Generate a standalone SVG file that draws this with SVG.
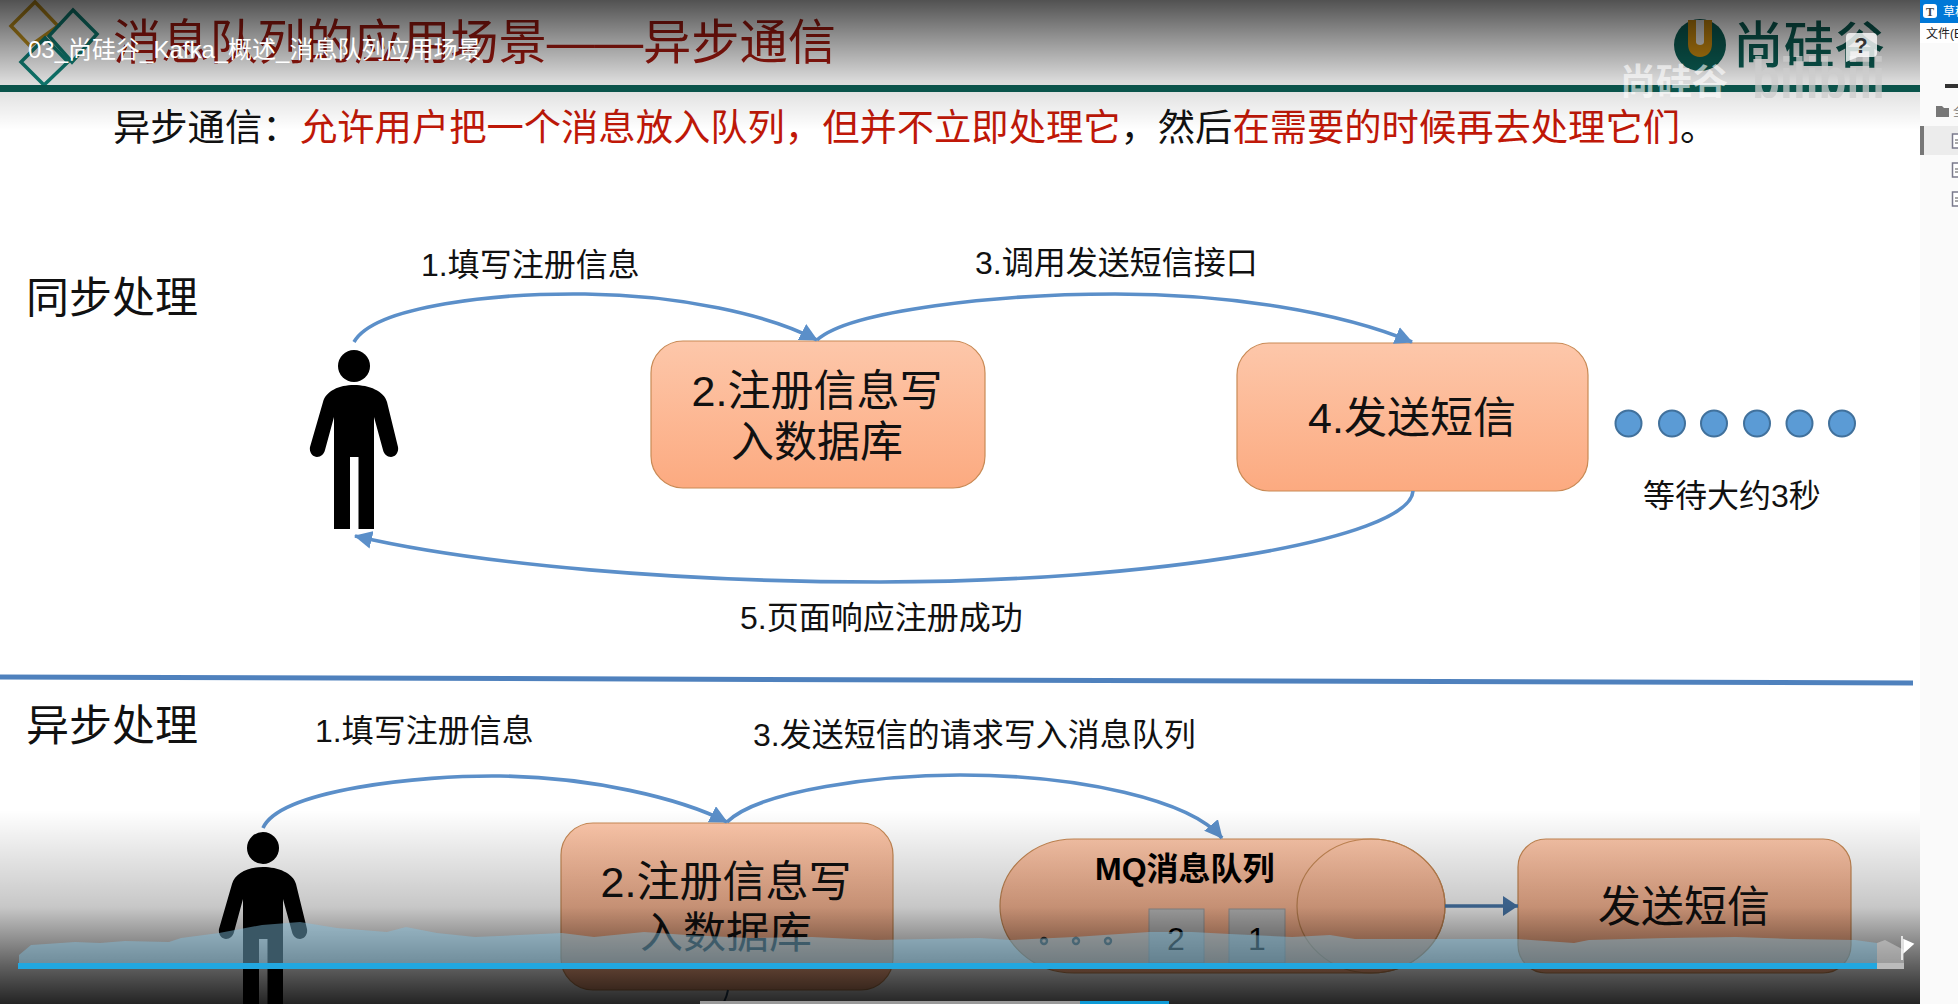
<svg xmlns="http://www.w3.org/2000/svg" xmlns:xlink="http://www.w3.org/1999/xlink" width="1958" height="1004" viewBox="0 0 1958 1004">
<defs>
<linearGradient id="boxG" x1="0" y1="0" x2="0" y2="1"><stop offset="0" stop-color="#fdc7aa"/><stop offset="1" stop-color="#fcaa80"/></linearGradient>
<linearGradient id="topShade" x1="0" y1="0" x2="0" y2="1"><stop offset="0" stop-color="#000" stop-opacity=".68"/><stop offset=".3" stop-color="#000" stop-opacity=".42"/><stop offset=".62" stop-color="#000" stop-opacity=".15"/><stop offset="1" stop-color="#000" stop-opacity="0"/></linearGradient>
<linearGradient id="botShade" x1="0" y1="0" x2="0" y2="1"><stop offset="0" stop-color="#000" stop-opacity="0"/><stop offset=".5" stop-color="#000" stop-opacity=".22"/><stop offset=".8" stop-color="#000" stop-opacity=".62"/><stop offset="1" stop-color="#000" stop-opacity=".86"/></linearGradient>
<marker id="ah" markerUnits="userSpaceOnUse" markerWidth="20" markerHeight="18" refX="17" refY="9" orient="auto"><path d="M0 0L18 9L0 18z" fill="#5b8fc9"/></marker>
<marker id="ah2" markerUnits="userSpaceOnUse" markerWidth="18" markerHeight="20" refX="15" refY="10" orient="auto"><path d="M0 0L15 10L0 20z" fill="#4a7aae"/></marker>
<g id="person"><ellipse cx="354" cy="366" rx="16" ry="16"/><path d="M354 385C339 385 326 391 323 402L310 447C309 453 313 457 317 457C321 457 324 454 325 450L334 417V529H350V457H358.5V529H374V417L383 450C384 454 387 457 391 457C395 457 399 453 398 447L387 402C384 391 369 385 354 385z"/></g>
<clipPath id="wmClip"><rect x="1600" y="50" width="300" height="48"/></clipPath>
</defs>
<style>
text{font-family:"Liberation Sans","Noto Sans CJK SC",sans-serif}
.box{fill:url(#boxG);stroke:#c98a55;stroke-width:1.2}
.lab{font-size:32px;fill:#111}
.big{font-size:43px;fill:#111;text-anchor:middle}
.head{font-size:43px;fill:#111}
.con{fill:none;stroke:#5b8fc9;stroke-width:3.6;marker-end:url(#ah)}
.dot{fill:#5b9bd5;stroke:#41719c;stroke-width:2}
.red{fill:#c01808}
.doc{fill:#fff;stroke:#7a7a8c;stroke-width:1.5}
.qd{fill:none;stroke:#333;stroke-width:2.4}
</style>
<rect width="1958" height="1004" fill="#fff"/>

<g id="header">
<path d="M35 2L58 26L30 46L11 26z" fill="none" stroke="#c9981e" stroke-width="3.5"/>
<path d="M73 10L97 34L72 62L49 36z" fill="none" stroke="#10857a" stroke-width="3.5"/>
<path d="M45 38L68 62L44 85L21 62z" fill="none" stroke="#10857a" stroke-width="3.5"/>
<text x="113" y="59" font-size="48.2" fill="#a81a10">消息队列的应用场景——异步通信</text>
<rect x="0" y="85" width="1920" height="7" fill="#0b5f55"/>
<text x="113" y="141" font-size="37.3" fill="#111">异步通信：</text>
<text x="300" y="141" font-size="37.3" class="red">允许用户把一个消息放入队列，但并不立即处理它<tspan fill="#111">，然后</tspan>在需要的时候再去处理它们<tspan fill="#111">。</tspan></text>
</g>

<g id="logo">
<circle cx="1700" cy="45" r="26" fill="#0b5f55"/>
<path d="M1688 20H1712V44C1712 52 1707 57 1700 57C1693 57 1688 52 1688 44z" fill="#c98a10"/>
<path d="M1696 20H1704V42C1704 46 1696 46 1696 42z" fill="#e8e8e8"/>
<text x="1733" y="63" font-size="50" font-weight="500" fill="#0b5f55" textLength="152" lengthAdjust="spacingAndGlyphs">尚硅谷</text>
</g>

<g id="sync-label"><text class="head" x="26" y="313">同步处理</text></g>
<g id="user-sync"><use xlink:href="#person" href="#person" fill="#000"/></g>
<g id="node-db-sync"><rect class="box" x="651" y="341" width="334" height="147" rx="32"/><text class="big" x="817" y="406">2.注册信息写</text><text class="big" x="817" y="457">入数据库</text></g>
<g id="node-sms-sync"><rect class="box" x="1237" y="343" width="351" height="148" rx="32"/><text class="big" x="1412" y="433">4.发送短信</text></g>
<g id="wait-dots">
<circle class="dot" cx="1628.5" cy="423.5" r="13"/><circle class="dot" cx="1672" cy="423.5" r="13"/><circle class="dot" cx="1714" cy="423.5" r="13"/><circle class="dot" cx="1757" cy="423.5" r="13"/><circle class="dot" cx="1799.5" cy="423.5" r="13"/><circle class="dot" cx="1842" cy="423.5" r="13"/>
<text class="lab" x="1643" y="507">等待大约3秒</text>
</g>

<line id="divider" x1="0" y1="677" x2="1913" y2="683" stroke="#4f81bd" stroke-width="5"/>

<g id="async-label"><text class="head" x="26" y="741">异步处理</text></g>
<g id="user-async"><use xlink:href="#person" href="#person" transform="translate(-91 482)" fill="#000"/></g>
<g id="node-db-async"><rect class="box" x="561" y="823" width="332" height="167" rx="32"/><text class="big" x="726" y="897">2.注册信息写</text><text class="big" x="726" y="948">入数据库</text></g>
<g id="node-mq">
<path class="box" d="M1074 839H1371A74 67 0 0 1 1371 973H1074A74 67 0 0 1 1074 839z"/>
<ellipse cx="1371" cy="906" rx="74" ry="67" fill="none" stroke="#c98a55" stroke-width="1.2"/>
<text x="1095" y="880" font-size="32" font-weight="700" fill="#000">MQ消息队列</text>
<circle class="qd" cx="1044" cy="941" r="3"/><circle class="qd" cx="1076" cy="941" r="3"/><circle class="qd" cx="1108" cy="941" r="3"/>
<rect x="1149" y="909" width="55" height="54" fill="#c4c4c4" stroke="#a0a0a0"/><text x="1176" y="950" font-size="32" text-anchor="middle" fill="#000">2</text>
<rect x="1229" y="909" width="56" height="54" fill="#c4c4c4" stroke="#a0a0a0"/><text x="1257" y="950" font-size="32" text-anchor="middle" fill="#000">1</text>
</g>
<g id="node-sms-async"><rect class="box" x="1518" y="839" width="333" height="134" rx="28"/><text class="big" x="1684" y="922">发送短信</text></g>

<g id="connectors">
<path class="con" d="M354 342C375 305 500 293 585 294C680 295 770 315 817 340"/>
<path class="con" d="M817 340C850 310 1000 294 1115 294C1230 294 1340 312 1412 342"/>
<path class="con" d="M1413 491C1410 540 1150 582 880 582C680 582 480 565 355 536"/>
<path class="con" d="M263 828C280 790 420 775 500 776C590 777 680 798 727 822"/>
<path class="con" d="M727 822C760 790 880 775 960 775C1080 775 1190 800 1222 838"/>
<path class="con" style="stroke:#4a7aae;marker-end:url(#ah2)" d="M1445 906H1518"/>
<path d="M728 990Q727 996 724 1002" fill="none" stroke="#2a4a68" stroke-width="2"/>
</g>

<g id="edge-labels">
<text class="lab" x="421" y="276">1.填写注册信息</text>
<text class="lab" x="975" y="274">3.调用发送短信接口</text>
<text class="lab" x="740" y="629">5.页面响应注册成功</text>
<text class="lab" x="315" y="742">1.填写注册信息</text>
<text class="lab" x="753" y="746">3.发送短信的请求写入消息队列</text>
</g>

<g id="player-overlay">
<rect x="0" y="0" width="1920" height="130" fill="url(#topShade)"/>
<rect x="0" y="810" width="1920" height="194" fill="url(#botShade)"/>
<path d="M19 963V955L31 945L75 942L100 943L125 941L169 942L181 938L219 933L262 925L300 922L337 928L387 932L406 927L437 933L475 937L562 933L594 937L644 932L687 935L750 938L812 937L875 940L980 938L1011 940L1074 937L1149 932L1192 932L1230 934L1292 937L1330 935L1355 939L1442 939L1517 939L1574 943L1589 940L1667 938L1736 937L1792 939L1855 940L1877 943V963z" fill="#80c0e0" fill-opacity=".45"/>
<path d="M1877 943L1885 940L1904 950V963H1877z" fill="#ddd" fill-opacity=".45"/>
<rect x="18" y="963" width="1859" height="6" fill="#22a7e0"/>
<rect x="1877" y="963" width="27" height="6" fill="#bbb"/>
<path d="M1902 936V960M1904 940L1913 944L1904 952z" fill="#fff" stroke="#fff" stroke-width="1.5"/>
<rect x="700" y="1001" width="380" height="3" fill="#999"/>
<rect x="1080" y="1001" width="89" height="3" fill="#0e9ad6"/>
<text x="28" y="58" font-size="24" fill="#fff">03_尚硅谷_Kafka_概述_消息队列应用场景</text>
<g clip-path="url(#wmClip)">
<text x="1620" y="95" font-size="36" font-weight="700" fill="#fff" fill-opacity=".6">尚硅谷</text>
<text x="1752" y="98" font-size="58" font-weight="700" fill="#ccc" fill-opacity=".75" textLength="133" lengthAdjust="spacingAndGlyphs">bilibili</text>
</g>
<path d="M1850 33H1873Q1877 33 1877 37V53Q1877 57 1873 57H1858L1846 62V37Q1846 33 1850 33z" fill="#fff" fill-opacity=".8"/>
<text x="1861" y="53" font-size="22" font-weight="700" text-anchor="middle" fill="#333">?</text>
</g>

<g id="side-panel">
<rect x="1920" y="0" width="38" height="1004" fill="#fafafa"/>
<rect x="1920" y="0" width="38" height="23" fill="#0078d7"/>
<rect x="1923" y="4" width="14" height="14" rx="3" fill="#fff"/>
<text x="1930" y="16" font-size="12" font-weight="700" text-anchor="middle" fill="#444" style="font-family:'Liberation Serif',serif">T</text>
<text x="1943" y="16" font-size="12" fill="#fff">草稿</text>
<rect x="1920" y="23" width="38" height="20" fill="#fff"/>
<text x="1926" y="38" font-size="12" fill="#222">文件(E</text>
<rect x="1945" y="84" width="13" height="4" fill="#333"/>
<path d="M1936 106H1942L1944 108H1949V117H1936z" fill="#777"/>
<text x="1953" y="116" font-size="12" fill="#777">全</text>
<rect x="1920" y="126" width="38" height="29" fill="#ececec"/>
<rect x="1920" y="126" width="4" height="29" fill="#777"/>
<rect class="doc" x="1952.5" y="134" width="12" height="14"/><path d="M1955 140H1958M1955 143H1958" stroke="#555"/>
<rect class="doc" x="1952.5" y="163" width="12" height="14"/><path d="M1955 169H1958M1955 172H1958" stroke="#555"/>
<rect class="doc" x="1952.5" y="192" width="12" height="14"/><path d="M1955 198H1958M1955 201H1958" stroke="#555"/>
</g>
</svg>
